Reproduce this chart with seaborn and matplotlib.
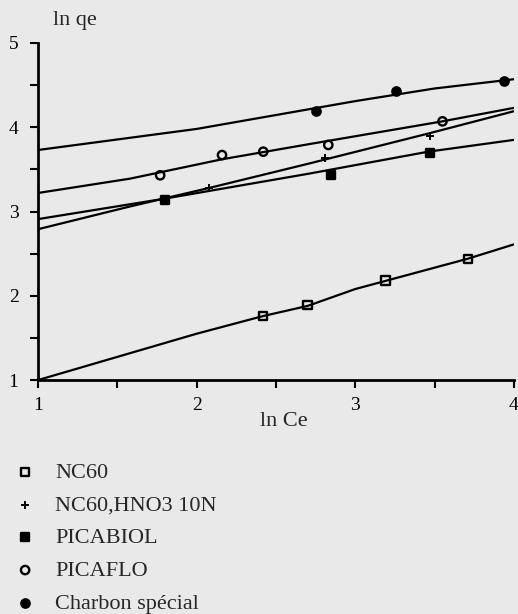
import matplotlib
matplotlib.use("Agg")
import matplotlib.pyplot as plt
import seaborn as sns
import numpy as np

# ---- data ----
series_names = ["NC60", "NC60,HNO3 10N", "PICABIOL", "PICAFLO", "Charbon spécial"]

nc60_x = [2.42, 2.70, 3.19, 3.71]
nc60_y = [1.76, 1.89, 2.18, 2.44]
hno3_x = [2.08, 2.81, 3.47]
hno3_y = [3.28, 3.63, 3.90]
picabiol_x = [1.80, 2.85, 3.47]
picabiol_y = [3.14, 3.43, 3.70]
picaflo_x = [1.77, 2.16, 2.42, 2.83, 3.55]
picaflo_y = [3.43, 3.67, 3.71, 3.79, 4.07]
charbon_x = [2.75, 3.26, 3.94]
charbon_y = [4.19, 4.43, 4.55]

# drawn (fitted) lines, read at a few x positions
nc60_line_x = [1.0, 2.0, 2.42, 2.70, 3.0, 3.71, 4.0]
nc60_line_y = [1.00, 1.55, 1.76, 1.88, 2.08, 2.44, 2.61]
hno3_line_x = [1.0, 1.58, 2.08, 2.71, 3.47, 4.0]
hno3_line_y = [2.79, 3.06, 3.28, 3.57, 3.93, 4.19]
picabiol_line_x = [1.0, 1.79, 2.71, 3.46, 4.0]
picabiol_line_y = [2.91, 3.15, 3.45, 3.71, 3.85]
picaflo_line_x = [1.0, 1.58, 2.16, 2.71, 3.55, 4.0]
picaflo_line_y = [3.22, 3.39, 3.62, 3.80, 4.07, 4.23]
charbon_line_x = [1.0, 2.0, 3.0, 3.5, 4.0]
charbon_line_y = [3.73, 3.98, 4.31, 4.46, 4.57]

x_ticks = [1, 2, 3, 4]
y_ticks = [1, 2, 3, 4, 5]
x_label = "ln Ce"
y_label = "ln qe"

# ---- styling ----
sns.set_style("ticks")
plt.rcParams["font.family"] = ["Liberation Serif", "DejaVu Serif"]
bg = "#e9e9e9"

fig = plt.figure(figsize=(5.18, 6.14), dpi=100, facecolor=bg)
ax = fig.add_axes([0.0734, 0.381, 0.9186, 0.549])
ax.set_facecolor(bg)

points = [(nc60_x, nc60_y), (hno3_x, hno3_y), (picabiol_x, picabiol_y),
          (picaflo_x, picaflo_y), (charbon_x, charbon_y)]
lines = [(nc60_line_x, nc60_line_y), (hno3_line_x, hno3_line_y),
         (picabiol_line_x, picabiol_line_y), (picaflo_line_x, picaflo_line_y),
         (charbon_line_x, charbon_line_y)]
markers = ["s", "+", "s", "o", "o"]
faces = ["none", "black", "black", "none", "black"]
sizes = [60, 110, 60, 50, 60]

for (lx, ly) in lines:
    sns.lineplot(x=lx, y=ly, ax=ax, color="black", lw=1.6, legend=False,
                 estimator=None, sort=False)

for name, (px, py), m, fc, s in zip(series_names, points, markers, faces, sizes):
    if m == "+":
        sns.scatterplot(x=px, y=py, ax=ax, marker=m, color="black", s=s,
                        linewidth=1.4, label=name, zorder=3)
    else:
        sns.scatterplot(x=px, y=py, ax=ax, marker=m, facecolor=fc,
                        edgecolor="black", s=s, linewidth=1.7, label=name,
                        zorder=3)

ax.set_xlim(1, 4)
ax.set_ylim(1, 5)
ax.set_xticks(x_ticks)
ax.set_yticks(y_ticks)
ax.set_xticks([1.5, 2.5, 3.5], minor=True)
ax.set_yticks([1.5, 2.5, 3.5, 4.5], minor=True)
ax.tick_params(axis="both", which="both", direction="out", length=6, width=1.5,
               colors="black", labelsize=14)
ax.tick_params(axis="y", pad=8)
ax.tick_params(axis="x", pad=6)
for sp in ["top", "right"]:
    ax.spines[sp].set_visible(False)
for sp in ["left", "bottom"]:
    ax.spines[sp].set_linewidth(2.0)
    ax.spines[sp].set_color("black")

ax.set_xlabel("")
ax.set_ylabel("")
fig.text(284 / 518, 1 - 421 / 614, x_label, ha="center", va="center", fontsize=16)
fig.text(75 / 518, 1 - 21 / 614, y_label, ha="center", va="center", fontsize=16)

handles, labels = ax.get_legend_handles_labels()
ax.get_legend().remove()
for h in handles:
    try:
        h.set_sizes([36])
    except Exception:
        pass
fig.legend(handles, labels, loc="upper left",
           bbox_to_anchor=(14 / 518, 1 - 462 / 614), frameon=False,
           fontsize=16, handletextpad=0.85, labelspacing=0.55,
           handlelength=1.0, borderpad=0, borderaxespad=0)

fig.savefig("out.png", dpi=100, facecolor=bg)
